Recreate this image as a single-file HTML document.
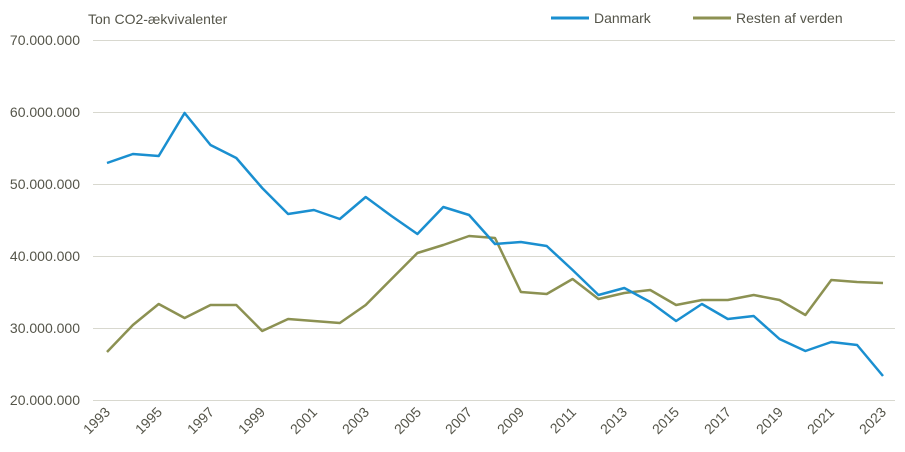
<!DOCTYPE html>
<html><head><meta charset="utf-8"><style>
body{margin:0;background:#fff}
svg{display:block;font-family:"Liberation Sans",sans-serif;fill:#4a4a40}
</style></head><body>
<svg width="905" height="452" viewBox="0 0 905 452">
<g stroke="#d8d8cf" stroke-width="1">
<line x1="93" x2="895" y1="40.5" y2="40.5"/>
<line x1="93" x2="895" y1="112.5" y2="112.5"/>
<line x1="93" x2="895" y1="184.5" y2="184.5"/>
<line x1="93" x2="895" y1="256.5" y2="256.5"/>
<line x1="93" x2="895" y1="328.5" y2="328.5"/>
<line x1="93" x2="895" y1="400.5" y2="400.5"/>
</g>
<g font-size="14" text-anchor="end" fill="#55554a">
<text x="80" y="45">70.000.000</text>
<text x="80" y="117">60.000.000</text>
<text x="80" y="189">50.000.000</text>
<text x="80" y="261">40.000.000</text>
<text x="80" y="333">30.000.000</text>
<text x="80" y="405">20.000.000</text>
</g>
<text x="88" y="24" font-size="14" fill="#55554a">Ton CO2-ækvivalenter</text>
<line x1="551" x2="589" y1="18" y2="18" stroke="#1a8fd0" stroke-width="3"/>
<text x="594" y="23" font-size="14" fill="#55554a">Danmark</text>
<line x1="693" x2="731" y1="18" y2="18" stroke="#8c9152" stroke-width="3"/>
<text x="736" y="23" font-size="14" fill="#55554a">Resten af verden</text>
<g font-size="14" text-anchor="end" fill="#55554a">
<text transform="translate(111,413) rotate(-45)">1993</text>
<text transform="translate(163,413) rotate(-45)">1995</text>
<text transform="translate(215,413) rotate(-45)">1997</text>
<text transform="translate(266,413) rotate(-45)">1999</text>
<text transform="translate(318,413) rotate(-45)">2001</text>
<text transform="translate(370,413) rotate(-45)">2003</text>
<text transform="translate(422,413) rotate(-45)">2005</text>
<text transform="translate(473,413) rotate(-45)">2007</text>
<text transform="translate(525,413) rotate(-45)">2009</text>
<text transform="translate(577,413) rotate(-45)">2011</text>
<text transform="translate(628,413) rotate(-45)">2013</text>
<text transform="translate(680,413) rotate(-45)">2015</text>
<text transform="translate(732,413) rotate(-45)">2017</text>
<text transform="translate(784,413) rotate(-45)">2019</text>
<text transform="translate(835,413) rotate(-45)">2021</text>
<text transform="translate(887,413) rotate(-45)">2023</text>
</g>
<polyline fill="none" stroke="#8c9152" stroke-width="2.5" stroke-linejoin="round" points="107,352 132.9,325 158.7,304 184.6,318 210.5,305 236.3,305 262.2,331 288.1,319 313.9,321 339.8,323 365.7,305 391.5,279 417.4,253 443.3,245 469.1,236 495,238 520.9,292 546.7,294 572.6,279 598.5,299 624.3,293 650.2,290 676.1,305 701.9,300 727.8,300 753.7,295 779.5,300 805.4,315 831.3,280 857.1,282 883,283"/>
<polyline fill="none" stroke="#1a8fd0" stroke-width="2.5" stroke-linejoin="round" points="107,163 132.9,154 158.7,156 184.6,113 210.5,145 236.3,158 262.2,188 288.1,214 313.9,210 339.8,219 365.7,197 391.5,216 417.4,234 443.3,207 469.1,215 495,244 520.9,242 546.7,246 572.6,270 598.5,295 624.3,288 650.2,302 676.1,321 701.9,304 727.8,319 753.7,316 779.5,339 805.4,351 831.3,342 857.1,345 883,376"/>
</svg>
</body></html>
